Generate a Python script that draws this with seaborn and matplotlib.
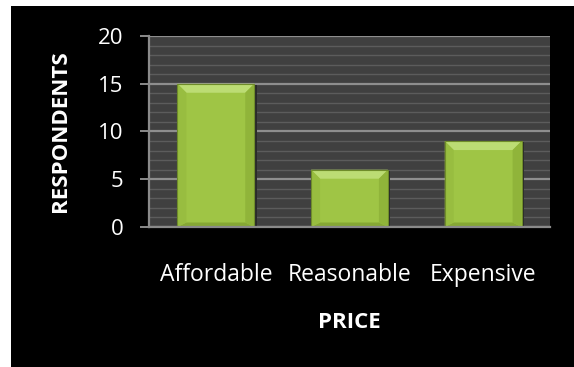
import matplotlib
matplotlib.use("Agg")
import matplotlib.pyplot as plt
from matplotlib.patches import Rectangle, Polygon
from matplotlib.ticker import MultipleLocator
import seaborn as sns
import pandas as pd

# Survey responses by perceived price
categories = ["Affordable", "Reasonable", "Expensive"]
respondents = [15, 6, 9]
y_ticks = [0, 5, 10, 15, 20]

sns.set_theme(style="dark")
plt.rcParams["font.family"] = ["Open Sans", "DejaVu Sans"]

df = pd.DataFrame({"price": categories, "respondents": respondents})

W, H = 574, 367
fig = plt.figure(figsize=(W / 100, H / 100), dpi=100, facecolor="black")
# thin white strips along the left and top of the black panel
fig.patches.append(Rectangle((0, 0), 11 / W, 1, transform=fig.transFigure,
                             facecolor="white", edgecolor="none", zorder=-1))
fig.patches.append(Rectangle((0, (H - 6) / H), 1, 6 / H, transform=fig.transFigure,
                             facecolor="white", edgecolor="none", zorder=-1))

left, right, top, bottom = 149, 550, 36, 227
ax = fig.add_axes([left / W, (H - bottom) / H, (right - left) / W, (bottom - top) / H])
ax.set_facecolor("#404040")

BAR = "#9fc545"
sns.barplot(data=df, x="price", y="respondents", order=categories, color=BAR,
            width=0.575, saturation=1, ax=ax, zorder=3, edgecolor="none")

ax.set_xlim(-0.5, 2.5)
ax.set_ylim(0, 20)
ax.set_yticks(y_ticks)
ax.yaxis.set_minor_locator(MultipleLocator(1))

ax.grid(False)
ax.grid(axis="y", which="minor", color="#5c5c5c", linewidth=1.0, zorder=1)
ax.grid(axis="y", which="major", color="#8e8e8e", linewidth=1.6, zorder=2)

for s in ["top", "right"]:
    ax.spines[s].set_visible(False)
for s in ["left", "bottom"]:
    ax.spines[s].set_visible(True)
    ax.spines[s].set_color("#8a8a8a")
    ax.spines[s].set_linewidth(1.6)
    ax.spines[s].set_zorder(4)

ax.tick_params(axis="y", which="major", left=True, length=6.5, width=1.4,
               color="#8a8a8a", pad=12, labelsize=16, labelcolor="white")
ax.tick_params(axis="y", which="minor", left=False)
ax.tick_params(axis="x", bottom=False, pad=20, labelsize=16.5, labelcolor="white")

# bevelled look for each bar
px_x = 3 / (right - left)
px_y = 20 / (bottom - top)
bev = 9
for p in list(ax.patches):
    x0, w, h = p.get_x(), p.get_width(), p.get_height()
    x1 = x0 + w
    bx, by = bev * px_x, bev * px_y
    # drop shadow on the right
    ax.add_patch(Rectangle((x1, 0), 2.5 * px_x, h - 1 * px_y, facecolor="#2a2a2a",
                           edgecolor="none", zorder=2.9))
    faces = [
        ([(x0, h), (x1, h), (x1 - bx, h - by), (x0 + bx, h - by)], "#bcdc74"),
        ([(x0, 0), (x1, 0), (x1 - bx, by * 0.5), (x0 + bx, by * 0.5)], "#86a834"),
        ([(x0, 0), (x0, h), (x0 + bx, h - by), (x0 + bx, by * 0.5)], "#98bd40"),
        ([(x1, 0), (x1, h), (x1 - bx, h - by), (x1 - bx, by * 0.5)], "#90b43a"),
    ]
    for pts, c in faces:
        ax.add_patch(Polygon(pts, closed=True, facecolor=c, edgecolor="none", zorder=3.5))
    ax.add_patch(Rectangle((x0, 0), w, h, facecolor="none", edgecolor="#6f8c2a",
                           linewidth=0.8, zorder=3.6))

ax.set_xlabel("PRICE", fontsize=16, fontweight="bold", color="white", va="center")
ax.set_ylabel("RESPONDENTS", fontsize=16, fontweight="bold", color="white", va="center")
ax.xaxis.set_label_coords(0.5, (bottom - 322) / (bottom - top))
ax.yaxis.set_label_coords((60 - left) / (right - left), 0.5)

fig.savefig("out.png", dpi=100, facecolor=fig.get_facecolor())
